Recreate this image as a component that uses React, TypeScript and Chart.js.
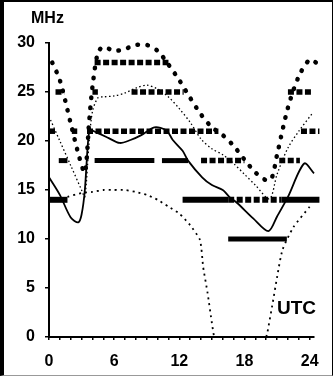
import React, { useEffect, useRef } from "react";
import { Chart, registerables } from "chart.js";
Chart.register(...registerables);

// ---- data ----
const xLabelHours = [0, 6, 12, 18, 24];
const yTickStep = 5;

const upperHours = [0.3, 1, 2, 2.8, 3.3, 3.7, 4, 4.5, 5, 6, 7, 8, 9, 10, 11, 12, 13, 14, 15, 16, 17, 18, 19, 20, 20.5, 21, 22, 23, 24, 24.6];
const upperMHz = [28, 26.2, 21.8, 18.3, 16.8, 22, 25.5, 29, 29.6, 29.2, 29.4, 29.8, 29.8, 29.2, 27.8, 26.2, 24.4, 22.7, 21.4, 20.6, 19.5, 18.1, 16.8, 16, 16.2, 18.6, 23.4, 26.6, 28.3, 28];

const fineHours = [0, 1, 2, 3, 3.3, 3.7, 4, 4.5, 5, 6, 7, 8, 9, 10, 11, 12, 13, 14, 15, 16, 17, 18, 19, 20.3, 21, 22, 23, 24.3];
const fineMHz = [22.5, 20, 17.5, 15, 14.3, 20, 23, 24.4, 24.5, 24.6, 24.9, 25.4, 25.7, 25.3, 24.5, 23.3, 21.9, 20.2, 19.2, 18.6, 17.7, 16.6, 15.5, 14.1, 16.6, 19.3, 21, 22.9];

const solidHours = [0, 1, 2, 2.7, 3, 3.3, 3.6, 3.8, 4.5, 5.5, 6.5, 7.5, 8.5, 9.7, 10.8, 11.4, 12.3, 12.8, 14.1, 15, 16, 16.6, 17.3, 18.8, 20.2, 21, 22, 23.5, 24.4];
const solidMHz = [16.3, 14.5, 12.2, 11.7, 12.5, 15, 20, 21.1, 20.8, 20.3, 19.8, 20.1, 20.6, 21.4, 21.1, 20.1, 19, 18, 16.3, 15.5, 15, 14.3, 13.7, 12.1, 10.8, 12.3, 14.3, 17.7, 16.7];

const lowHours = [1.7, 3, 4, 5, 6, 7, 8, 9, 10, 11, 12, 13, 13.9, 14.2, 14.6, 15, 15.2, 17.5, 20, 20.1, 20.6, 21, 21.5, 22.5, 24];
const lowMHz = [14.3, 14.7, 14.8, 15, 15, 15, 14.8, 14.5, 14, 13.3, 12.6, 11.4, 9.9, 7.1, 4.5, 1.4, 0, null, 0, 0.4, 3.5, 6.1, 8.9, 11.2, 13.3];

const bandLevels = [28, 25, 21, 18, 14, 10];
const band28Beaded = [[4.2, 11.0]];
const band25Beaded = [[0.6, 1.4], [4.0, 4.5], [7.6, 12.4], [22.0, 24.3]];
const band21Beaded = [[0, 0.6], [2.1, 2.6], [3.5, 15.6], [23.2, 24.9]];
const band18Solid = [[0.9, 1.7], [4.2, 9.7], [10.4, 12.8]];
const band18Beaded = [[14.0, 18.0], [21.2, 23.1]];
const band14Solid = [[0, 1.7], [12.3, 16.5], [21.4, 24.9]];
const band14Beaded = [[16.5, 21.4]];
const band10Solid = [[16.5, 21.9]];

const pts = (xs: number[], ys: (number | null)[]) => xs.map((x, i) => ({ x, y: ys[i] }));

function bandSets(level: number, spans: number[][], beaded: boolean, width: number) {
  return spans.map((s) => ({
    data: [{ x: s[0], y: level }, { x: s[1], y: level }],
    borderColor: "#000",
    borderWidth: width,
    borderDash: beaded ? [6, 2.5] : [],
    borderCapStyle: "butt" as const,
    pointRadius: 0,
    tension: 0,
  }));
}

export default function App() {
  const ref = useRef<HTMLCanvasElement | null>(null);
  useEffect(() => {
    if (!ref.current) return;
    const datasets: any[] = [
      ...bandSets(bandLevels[0], band28Beaded, true, 5.5),
      ...bandSets(bandLevels[1], band25Beaded, true, 5.5),
      ...bandSets(bandLevels[2], band21Beaded, true, 5.5),
      ...bandSets(bandLevels[3], band18Solid, false, 5),
      ...bandSets(bandLevels[3], band18Beaded, true, 5.5),
      ...bandSets(bandLevels[4], band14Solid, false, 6),
      ...bandSets(bandLevels[4], band14Beaded, true, 6),
      ...bandSets(bandLevels[5], band10Solid, false, 5),
      {
        data: pts(upperHours, upperMHz),
        borderColor: "#000",
        borderWidth: 4.5,
        borderDash: [0.5, 9.5],
        borderCapStyle: "round",
        pointRadius: 0,
        tension: 0.3,
      },
      {
        data: pts(fineHours, fineMHz),
        borderColor: "#000",
        borderWidth: 1.3,
        borderDash: [1.5, 2.5],
        pointRadius: 0,
        tension: 0.3,
      },
      {
        data: pts(solidHours, solidMHz),
        borderColor: "#000",
        borderWidth: 1.8,
        pointRadius: 0,
        tension: 0.3,
      },
      {
        data: pts(lowHours, lowMHz),
        borderColor: "#000",
        borderWidth: 1.8,
        borderDash: [2, 4],
        pointRadius: 0,
        tension: 0.2,
        spanGaps: false,
      },
    ];
    const font = { family: "'Liberation Sans', Arial, sans-serif", size: 16, weight: "bold" as const };
    const chart = new Chart(ref.current, {
      type: "line",
      data: { datasets },
      options: {
        animation: false,
        responsive: false,
        clip: false as any,
        layout: { padding: { top: 43, right: 19, left: 0, bottom: 0 } },
        plugins: { legend: { display: false }, tooltip: { enabled: false } },
        scales: {
          x: {
            type: "linear",
            min: 0,
            max: 24.4,
            afterFit: (s: any) => { s.height = 39; },
            border: { color: "#000", width: 2 },
            grid: { drawOnChartArea: false, drawTicks: true, tickLength: 3, color: "#000", lineWidth: 1.5 },
            afterBuildTicks: (s: any) => {
              const t = [];
              for (let h = 0; h <= 24; h++) t.push({ value: h });
              s.ticks = t;
            },
            ticks: {
              autoSkip: false,
              maxRotation: 0,
              color: "#000",
              font,
              padding: 12,
              callback: (v: any) => (xLabelHours.includes(Number(v)) ? String(v) : ""),
            },
          },
          y: {
            min: 0,
            max: 30,
            afterFit: (s: any) => { s.width = 49; },
            border: { color: "#000", width: 2 },
            grid: { drawOnChartArea: false, drawTicks: true, tickLength: 4, color: "#000", lineWidth: 1.5 },
            ticks: { stepSize: yTickStep, color: "#000", font, padding: 10 },
          },
        },
      },
    });
    return () => chart.destroy();
  }, []);
  return (
    <div style={{ position: "fixed", left: 0, top: 0, width: 333, height: 376, background: "#fff" }}>
      <canvas ref={ref} width={333} height={376} style={{ position: "absolute", left: 0, top: 0 }} />
      <div style={{ position: "absolute", left: 31, top: 9, font: "bold 16px 'Liberation Sans', Arial, sans-serif", color: "#000" }}>MHz</div>
      <div style={{ position: "absolute", left: 277, top: 297, font: "bold 19px 'Liberation Sans', Arial, sans-serif", color: "#000" }}>UTC</div>
      <div
        style={{
          position: "absolute", left: 0, top: 0, width: 333, height: 376, boxSizing: "border-box",
          borderLeft: "4px solid #000", borderTop: "2px solid #000", borderRight: "1px solid #000", borderBottom: "1px solid #999",
          pointerEvents: "none",
        }}
      />
    </div>
  );
}
